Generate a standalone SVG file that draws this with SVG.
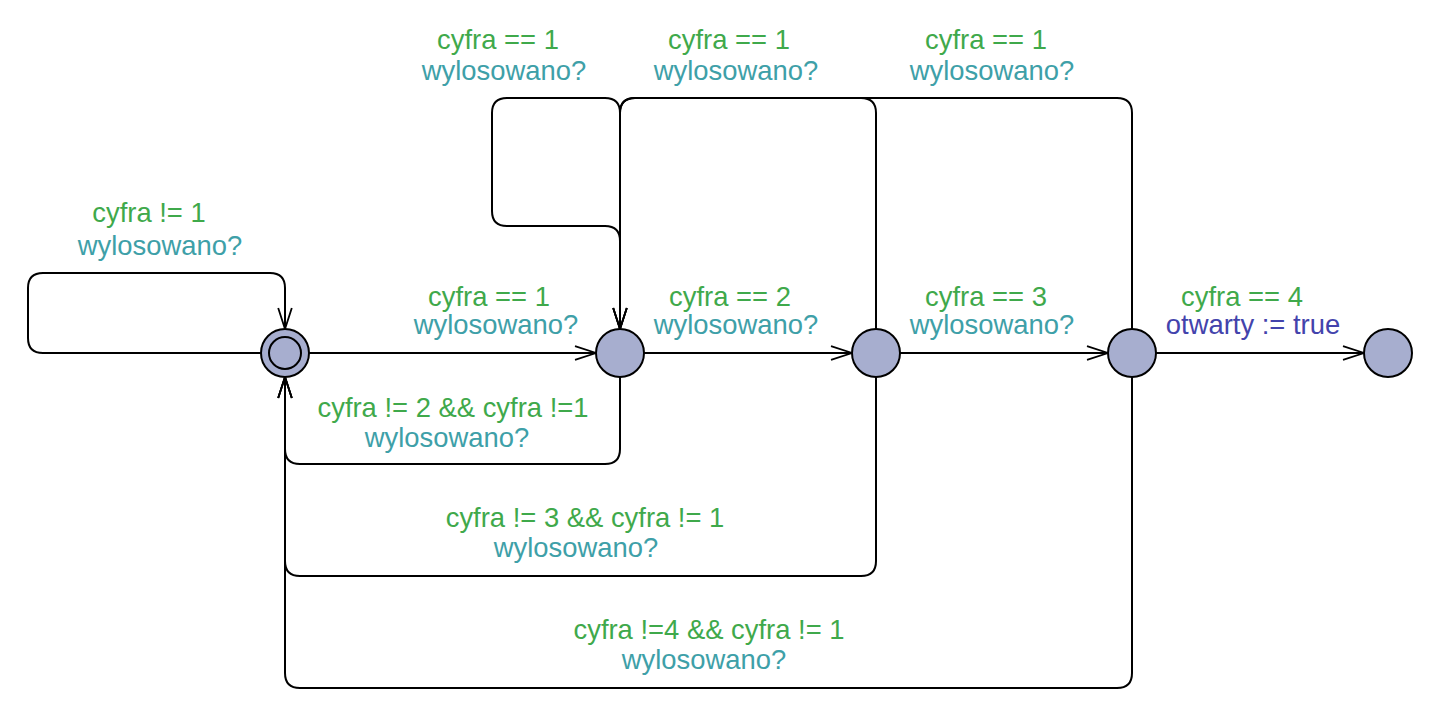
<svg xmlns="http://www.w3.org/2000/svg" width="1443" height="725" viewBox="0 0 1443 725">
<style>
text{font-family:"Liberation Sans",Arial,sans-serif;font-size:27.4px;text-anchor:middle}
.g{fill:#3fa94b}.s{fill:#3ea0a8}.a{fill:#4343ac}
.loc{fill:#a7aecf;stroke:#000;stroke-width:2}
.e{fill:none;stroke:#000;stroke-width:2}
</style>
<defs>
<marker id="arr" markerUnits="userSpaceOnUse" markerWidth="24" markerHeight="18" refX="22" refY="8" orient="auto" viewBox="0 0 24 16">
<path d="M1,1.2 L22,8 L1,14.8" fill="none" stroke="#000" stroke-width="1.8"/>
</marker>
</defs>
<rect width="1443" height="725" fill="#fff"/>
<g id="connectors">
<path class="e" marker-end="url(#arr)" d="M261,353 H43 Q28,353 28,338 V288 Q28,273 43,273 H270 Q285,273 285,288 V329"/>
<path class="e" marker-end="url(#arr)" d="M309,353 H596"/>
<path class="e" marker-end="url(#arr)" d="M644,353 H852"/>
<path class="e" marker-end="url(#arr)" d="M900,353 H1108"/>
<path class="e" marker-end="url(#arr)" d="M1156,353 H1364"/>
<path class="e" marker-end="url(#arr)" d="M620,329 V113 Q620,98 605,98 H507 Q492,98 492,113 V211 Q492,226 507,226 H605 Q620,226 620,241 V329"/>
<path class="e" marker-end="url(#arr)" d="M876,329 V113 Q876,98 861,98 H635 Q620,98 620,113 V329"/>
<path class="e" marker-end="url(#arr)" d="M1132,329 V113 Q1132,98 1117,98 H635 Q620,98 620,113 V329"/>
<path class="e" marker-end="url(#arr)" d="M620,377 V449 Q620,464 605,464 H300 Q285,464 285,449 V377"/>
<path class="e" marker-end="url(#arr)" d="M876,377 V561 Q876,576 861,576 H300 Q285,576 285,561 V377"/>
<path class="e" marker-end="url(#arr)" d="M1132,377 V673 Q1132,688 1117,688 H300 Q285,688 285,673 V377"/>
</g>
<g id="labels">
<text class="g" x="149" y="222">cyfra != 1</text>
<text class="s" x="160" y="255">wylosowano?</text>
<text class="g" x="489" y="306">cyfra == 1</text>
<text class="s" x="496" y="334">wylosowano?</text>
<text class="g" x="730" y="306">cyfra == 2</text>
<text class="s" x="736" y="334">wylosowano?</text>
<text class="g" x="986" y="306">cyfra == 3</text>
<text class="s" x="992" y="334">wylosowano?</text>
<text class="g" x="1242" y="306">cyfra == 4</text>
<text class="a" x="1253" y="334">otwarty := true</text>
<text class="g" x="498" y="49">cyfra == 1</text>
<text class="s" x="504" y="80">wylosowano?</text>
<text class="g" x="729" y="49">cyfra == 1</text>
<text class="s" x="736" y="80">wylosowano?</text>
<text class="g" x="986" y="49">cyfra == 1</text>
<text class="s" x="992" y="80">wylosowano?</text>
<text class="g" x="453" y="417">cyfra != 2 &amp;&amp; cyfra !=1</text>
<text class="s" x="447" y="447">wylosowano?</text>
<text class="g" x="585" y="527">cyfra != 3 &amp;&amp; cyfra != 1</text>
<text class="s" x="576" y="557">wylosowano?</text>
<text class="g" x="709" y="639">cyfra !=4 &amp;&amp; cyfra != 1</text>
<text class="s" x="704" y="669">wylosowano?</text>
</g>
<g id="n0"><circle class="loc" cx="285" cy="353" r="24"/><circle class="loc" cx="285" cy="353" r="16"/></g>
<g id="n1"><circle class="loc" cx="620" cy="353" r="24"/></g>
<g id="n2"><circle class="loc" cx="876" cy="353" r="24"/></g>
<g id="n3"><circle class="loc" cx="1132" cy="353" r="24"/></g>
<g id="n4"><circle class="loc" cx="1388" cy="353" r="24"/></g>
</svg>
